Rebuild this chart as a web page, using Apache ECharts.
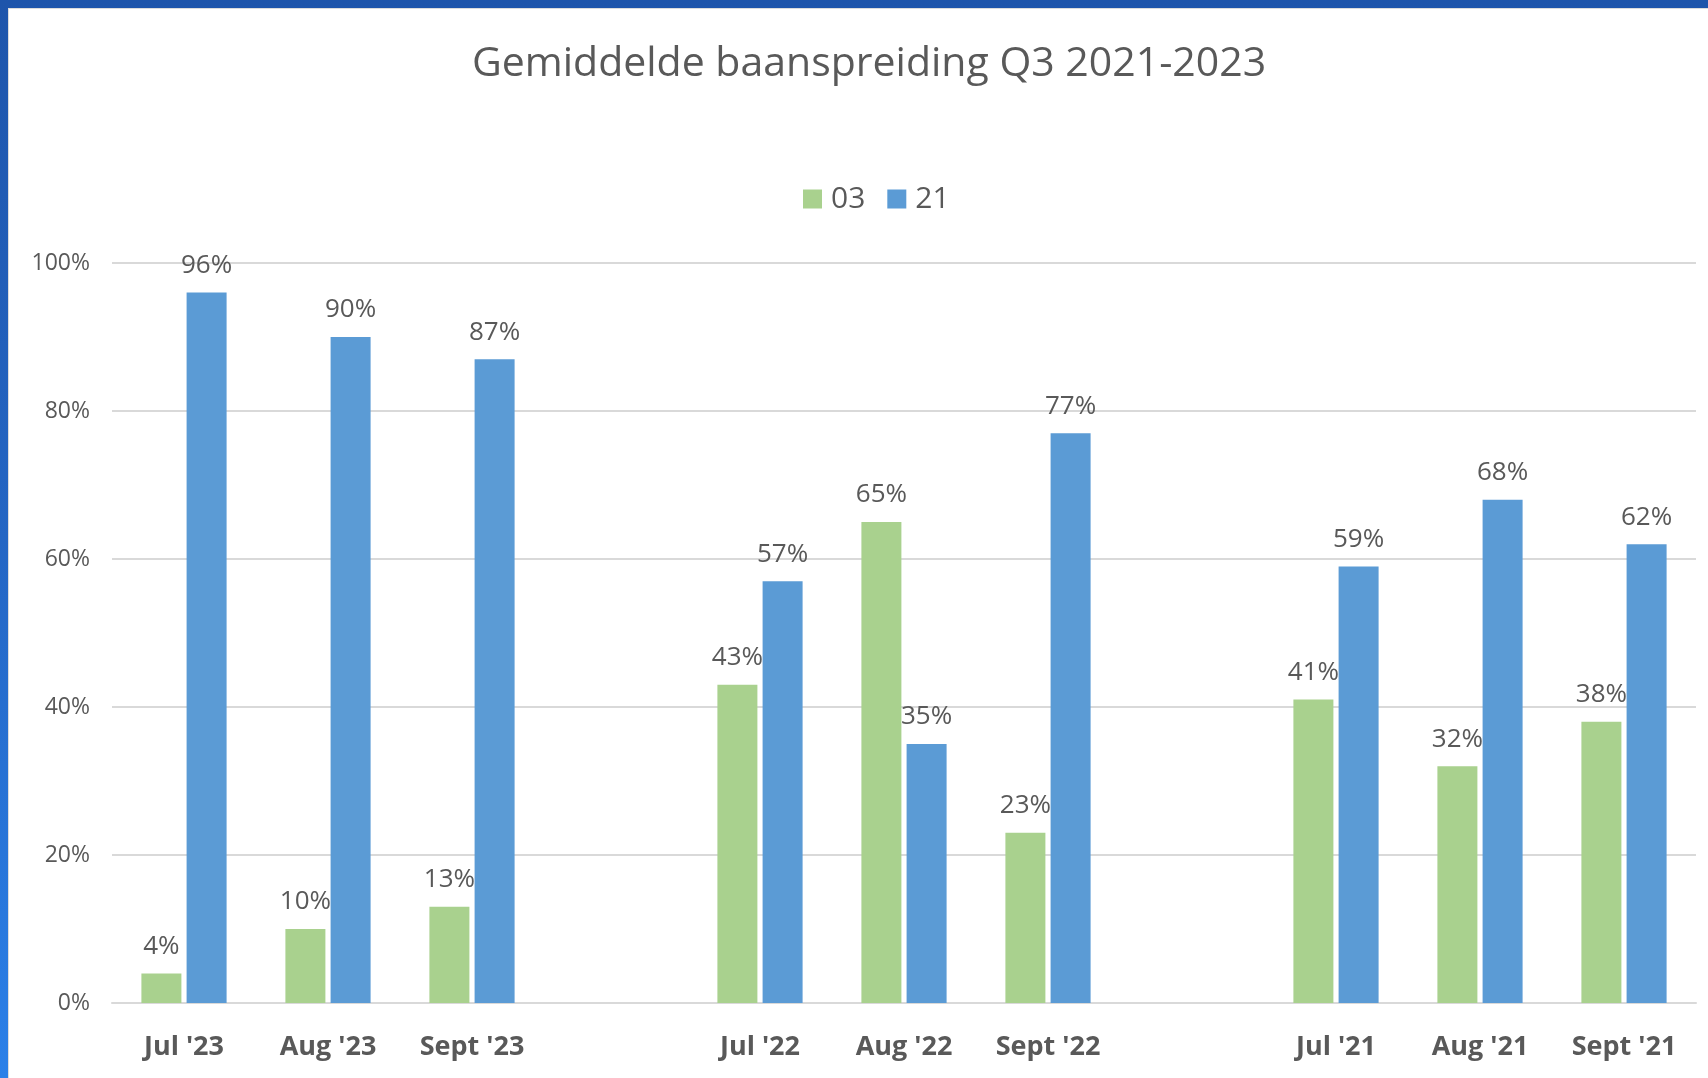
<!DOCTYPE html>
<html lang="nl">
<head>
  <meta charset="UTF-8">
  <title>Gemiddelde baanspreiding Q3 2021-2023</title>
  <script src="https://cdn.jsdelivr.net/npm/echarts@6/dist/echarts.min.js"></script>
  <style>
    html, body { margin: 0; padding: 0; }
    body {
      width: 1708px; height: 1078px; overflow: hidden;
      background: linear-gradient(to bottom, #1e55ab 0%, #2466c4 50%, #2b80e8 100%);
      position: relative;
    }
    #main {
      position: absolute; left: 8px; top: 8px;
      width: 1700px; height: 1070px;
      background: #ffffff;
      border-top: 1px solid #dcdcdc; border-left: 1px solid #dcdcdc;
      box-sizing: border-box;
    }
  </style>
</head>
<body>
  <div id="main"></div>
  <script>
    // categorieën (lege plekken scheiden de jaren)
    const maanden = ["Jul '23", "Aug '23", "Sept '23", "", "Jul '22", "Aug '22", "Sept '22", "", "Jul '21", "Aug '21", "Sept '21"];
    // baanspreiding in procenten
    const baan03 = [4, 10, 13, '-', 43, 65, 23, '-', 41, 32, 38];
    const baan21 = [96, 90, 87, '-', 57, 35, 77, '-', 59, 68, 62];
    const yTicks = [0, 20, 40, 60, 80, 100];

    const grijs = '#595959';
    const font = '"Open Sans", "Noto Sans", sans-serif';

    var myChart = echarts.init(document.getElementById('main'));
    var labelStyle = {
      show: true,
      position: 'top',
      distance: 14,
      formatter: '{c}%',
      color: grijs,
      fontSize: 26,
      fontFamily: font
    };
    var option = {
      animation: false,
      textStyle: { fontFamily: font },
      title: {
        text: 'Gemiddelde baanspreiding Q3 2021-2023',
        left: 860,
        textAlign: 'center',
        top: 35,
        padding: 0,
        textStyle: { color: grijs, fontSize: 41, fontWeight: 'normal', fontFamily: font }
      },
      legend: {
        data: ['03', '21'],
        left: 794,
        top: 175,
        padding: 0,
        itemWidth: 19,
        itemHeight: 19,
        itemGap: 22,
        icon: 'rect',
        textStyle: { color: grijs, fontSize: 30, fontFamily: font, padding: [0, 0, 0, 4] }
      },
      grid: { left: 103, right: 12, top: 254, bottom: 75, containLabel: false },
      xAxis: {
        type: 'category',
        data: maanden,
        axisLine: { lineStyle: { color: '#d9d9d9', width: 2 } },
        axisTick: { show: false },
        axisLabel: { color: grijs, fontSize: 27, fontWeight: 'bold', margin: 31, fontFamily: font, interval: 0 }
      },
      yAxis: {
        type: 'value',
        min: yTicks[0],
        max: yTicks[yTicks.length - 1],
        interval: 20,
        axisLine: { show: false },
        axisTick: { show: false },
        splitLine: { lineStyle: { color: '#d9d9d9', width: 2 } },
        axisLabel: { color: grijs, fontSize: 23, margin: 22, formatter: '{value}%', fontFamily: font }
      },
      series: [
        {
          name: '03',
          type: 'bar',
          data: baan03,
          barWidth: 40,
          barGap: '13%',
          itemStyle: { color: '#a9d18e' },
          label: labelStyle
        },
        {
          name: '21',
          type: 'bar',
          data: baan21,
          barWidth: 40,
          itemStyle: { color: '#5b9bd5' },
          label: labelStyle
        }
      ]
    };
    myChart.setOption(option);
  </script>
</body>
</html>
